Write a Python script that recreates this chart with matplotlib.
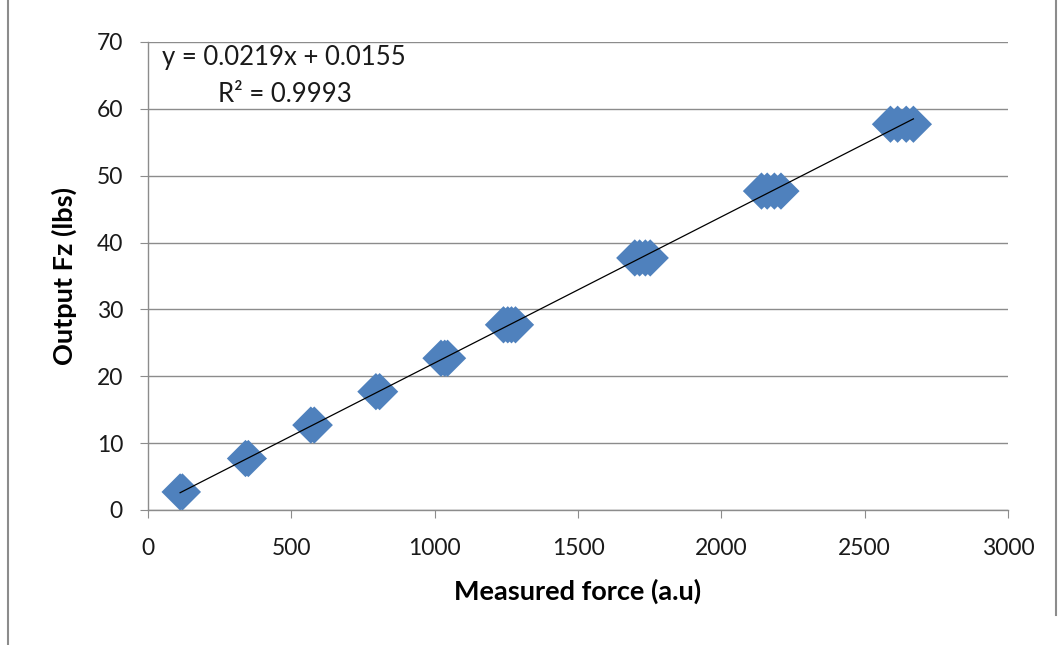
import numpy as np
import matplotlib
matplotlib.use('Agg')
import matplotlib.pyplot as plt
from matplotlib.lines import Line2D

# output levels (lbs) and the measured readings at each level
levels = [2.7, 7.7, 12.7, 17.7, 22.7, 27.7, 37.7, 47.7, 57.7]
readings = [
    [112, 120],
    [340, 350],
    [568, 580],
    [795, 808],
    [1022, 1035, 1045],
    [1240, 1255, 1268, 1282],
    [1698, 1715, 1735, 1752],
    [2140, 2160, 2185, 2208],
    [2590, 2615, 2645, 2670],
]
eq_text = "y = 0.0219x + 0.0155"
r2_text = "R\u00b2 = 0.9993"

xs = np.concatenate([np.array(r, float) for r in readings])
ys = np.concatenate([[lv] * len(r) for lv, r in zip(levels, readings)])

plt.rcParams['font.family'] = ['Lato', 'DejaVu Sans']

fig = plt.figure(figsize=(10.63, 6.45), dpi=100)
ax = fig.add_axes([148 / 1063, 135 / 645, 860 / 1063, 468 / 645])

ax.scatter(xs, ys, marker='D', s=360, color='#4F81BD', edgecolors='none', zorder=3)

slope, icpt = np.polyfit(xs, ys, 1)
fx = np.array([xs.min(), xs.max()])
ax.plot(fx, slope * fx + icpt, color='black', lw=0.9, zorder=4)

ax.set_xlim(0, 3000)
ax.set_ylim(0, 70)
ax.set_xticks(np.arange(0, 3001, 500))
ax.set_yticks(np.arange(0, 71, 10))
ax.grid(axis='y', color='#8c8c8c', lw=1)
ax.set_axisbelow(True)
for s in ['top', 'right']:
    ax.spines[s].set_visible(False)
for s in ['left', 'bottom']:
    ax.spines[s].set_color('#8c8c8c')
    ax.spines[s].set_linewidth(1)
ax.tick_params(axis='both', colors='#8c8c8c', labelcolor='#1a1a1a', labelsize=16.5, length=6, direction='out')
ax.tick_params(axis='x', pad=14)
ax.tick_params(axis='y', pad=12)

ax.set_xlabel("Measured force (a.u)", fontsize=19.5, fontweight='bold', labelpad=14)
ax.set_ylabel("Output Fz (lbs)", fontsize=19.5, fontweight='bold', labelpad=14)

fig.text(162 / 1063, 1 - 58 / 645, eq_text, fontsize=18.5, va='center', ha='left', color='#1a1a1a')
fig.text(218 / 1063, 1 - 95 / 645, r2_text, fontsize=18.5, va='center', ha='left', color='#1a1a1a')

# chart frame
fig.add_artist(Line2D([8 / 1063, 8 / 1063], [0, 1], color='#8c8c8c', lw=1.5))
fig.add_artist(Line2D([1056 / 1063, 1056 / 1063], [30 / 645, 1], color='#8c8c8c', lw=1.5))

fig.savefig('out.png', dpi=100)
